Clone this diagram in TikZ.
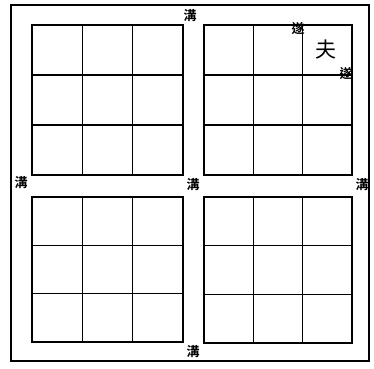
\documentclass[tikz,border=0pt]{standalone}
\usepackage{fontspec}
\newfontfamily\cjk{Noto Sans CJK TC}[BoldFont={* Bold}]
\begin{document}
\begin{tikzpicture}[x=1pt,y=-1pt,
  frame/.style={line width=2pt},
  blockline/.style={line width=2pt},
  gridline/.style={line width=1.4pt},
  ditch/.style={font=\cjk\bfseries\fontsize{13}{13}\selectfont, inner sep=0pt},
  field/.style={font=\cjk\fontsize{21}{21}\selectfont, inner sep=0pt}]
\useasboundingbox (0,0) rectangle (374,368);
\draw[frame] (11,5) rectangle (369,361);
% blocks: left x, top y, right x, bottom y
\foreach \l/\t/\r/\b in {32/25/183/175, 204/25/352/175, 32/197/183/342, 204/197/352/343}{
  \draw[blockline] (\l,\t) rectangle (\r,\b);
  \draw[gridline] ({\l+(\r-\l)/3},\t) -- ({\l+(\r-\l)/3},\b);
  \draw[gridline] ({\l+2*(\r-\l)/3},\t) -- ({\l+2*(\r-\l)/3},\b);
  \draw[gridline] (\l,{\t+(\b-\t)/3}) -- (\r,{\t+(\b-\t)/3});
  \draw[gridline] (\l,{\t+2*(\b-\t)/3}) -- (\r,{\t+2*(\b-\t)/3});
}
\node[ditch] (gtop) at (190,16) {溝};
\node[ditch] (gleft) at (21,183) {溝};
\node[ditch] (gmid) at (193,185) {溝};
\node[ditch] (gright) at (362,185) {溝};
\node[ditch] (gbot) at (193,352) {溝};
\node[ditch] (suia) at (298,29) {遂};
\node[ditch] (suib) at (346,74) {遂};
\node[field] (fu) at (326,50) {夫};
\end{tikzpicture}
\end{document}
